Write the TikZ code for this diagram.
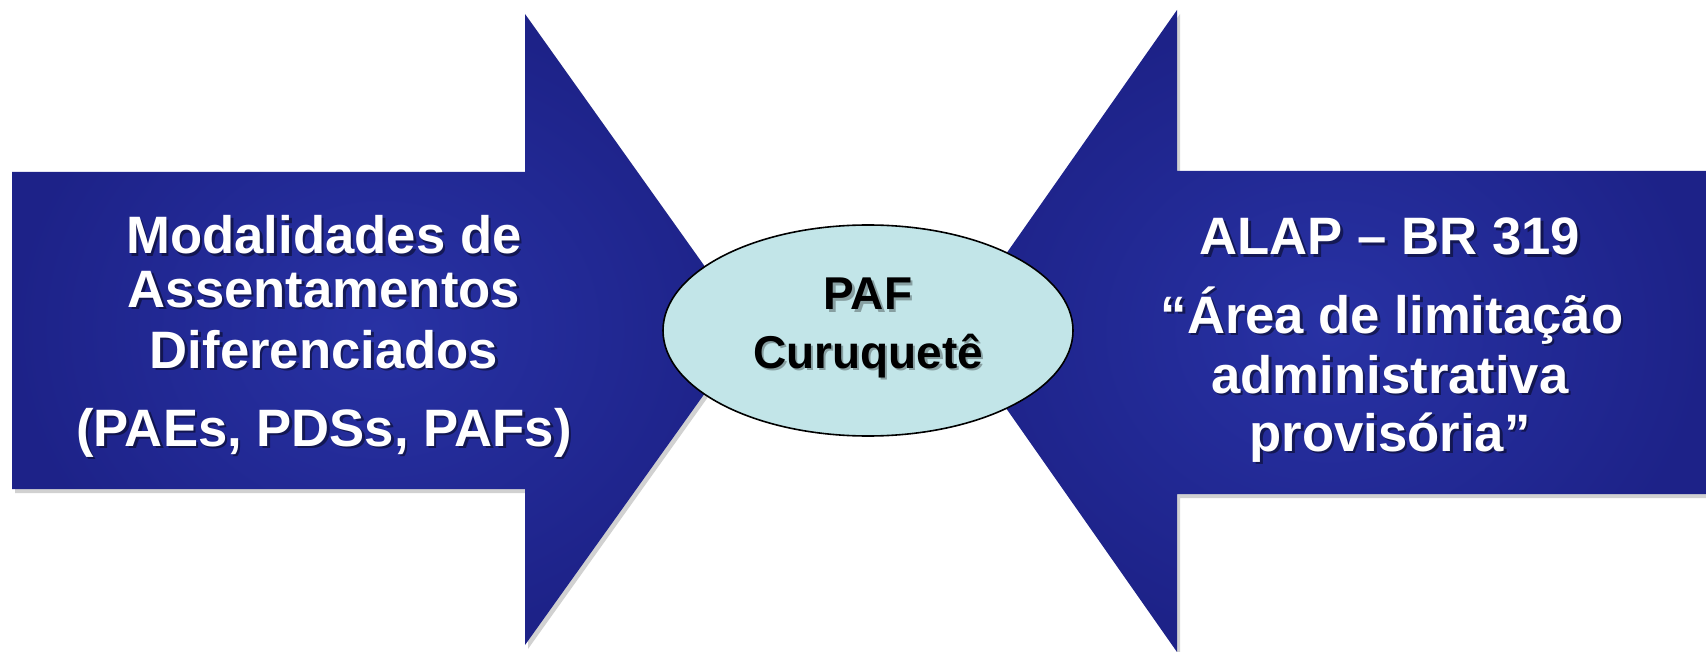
\documentclass[tikz,border=0pt]{standalone}
\usepackage{fontspec}
\setmainfont{Liberation Sans}
\usetikzlibrary{shapes.geometric}

\definecolor{arrowblue}{RGB}{29,34,136}
\definecolor{arrowlight}{RGB}{40,50,164}
\definecolor{pafcyan}{RGB}{194,229,232}

\tikzset{every picture/.style={line width=0.75pt}}
\tikzset{
	bigtxt/.style={font=\fontsize{39.5}{44}\selectfont\bfseries, text=white, anchor=base, inner sep=0pt},
	bigsh/.style={bigtxt, text=black, opacity=0.45},
	paftxt/.style={font=\fontsize{34.5}{38}\selectfont\bfseries, text=black, anchor=base, inner sep=0pt},
	pafsh/.style={paftxt, opacity=0.3}}

\begin{document}
\begin{tikzpicture}[x=0.75pt,y=0.75pt,yscale=-1,xscale=1]
	\useasboundingbox (0,0) rectangle (1706,652);

	%Shadow: Right Arrow [id:lshadow]
	\fill [black, opacity=0.18] (15,176) -- (528,176) -- (528,18) -- (753,334) -- (528,649) -- (528,493) -- (15,493) -- cycle ;
	%Right Arrow [id:larrow]
	\draw [draw opacity=0, inner color=arrowlight, outer color=arrowblue] (12,172) -- (525,172) -- (525,14) -- (750,330) -- (525,645) -- (525,489) -- (12,489) -- cycle ;
	%Shadow: Left Arrow [id:rshadow]
	\fill [black, opacity=0.18] (1709,175) -- (1180,175) -- (1180,14) -- (955,335) -- (1180,656) -- (1180,498) -- (1709,498) -- cycle ;
	%Left Arrow [id:rarrow]
	\draw [draw opacity=0, inner color=arrowlight, outer color=arrowblue] (1706,171) -- (1177,171) -- (1177,10) -- (952,331) -- (1177,652) -- (1177,494) -- (1706,494) -- cycle ;
	%Shape: Ellipse [id:paf]
	\node (paf) [ellipse, draw, line width=1.2pt, fill=pafcyan, minimum width=307.5pt, minimum height=158.25pt, inner sep=0pt] at (868,330.5) {};

	% Text Node
	\node (l1s) [bigsh] at (326.5,256.5) {Modalidades de};
	\node (l1) [bigtxt] at (324,254) {Modalidades de};
	% Text Node
	\node (l2s) [bigsh] at (326.5,309.5) {Assentamentos};
	\node (l2) [bigtxt] at (324,307) {Assentamentos};
	% Text Node
	\node (l3s) [bigsh] at (326.5,370.5) {Diferenciados};
	\node (l3) [bigtxt] at (324,368) {Diferenciados};
	% Text Node
	\node (l4s) [bigsh] at (326.5,448.5) {(PAEs, PDSs, PAFs)};
	\node (l4) [bigtxt] at (324,446) {(PAEs, PDSs, PAFs)};

	% Text Node
	\node (r1s) [bigsh] at (1392.5,257.5) {ALAP – BR 319};
	\node (r1) [bigtxt] at (1390,255) {ALAP – BR 319};
	% Text Node
	\node (r2s) [bigsh] at (1394.5,335.5) {“Área de limitação};
	\node (r2) [bigtxt] at (1392,333) {“Área de limitação};
	% Text Node
	\node (r3s) [bigsh] at (1392.5,395.5) {administrativa};
	\node (r3) [bigtxt] at (1390,393) {administrativa};
	% Text Node
	\node (r4s) [bigsh] at (1392.5,453.5) {provisória”};
	\node (r4) [bigtxt] at (1390,451) {provisória”};

	% Text Node
	\node (p1s) [pafsh] at (870.5,312.5) {PAF};
	\node (p1) [paftxt] at (868,310) {PAF};
	% Text Node
	\node (p2s) [pafsh] at (870.5,370.5) {Curuquetê};
	\node (p2) [paftxt] at (868,368) {Curuquetê};

\end{tikzpicture}
\end{document}
